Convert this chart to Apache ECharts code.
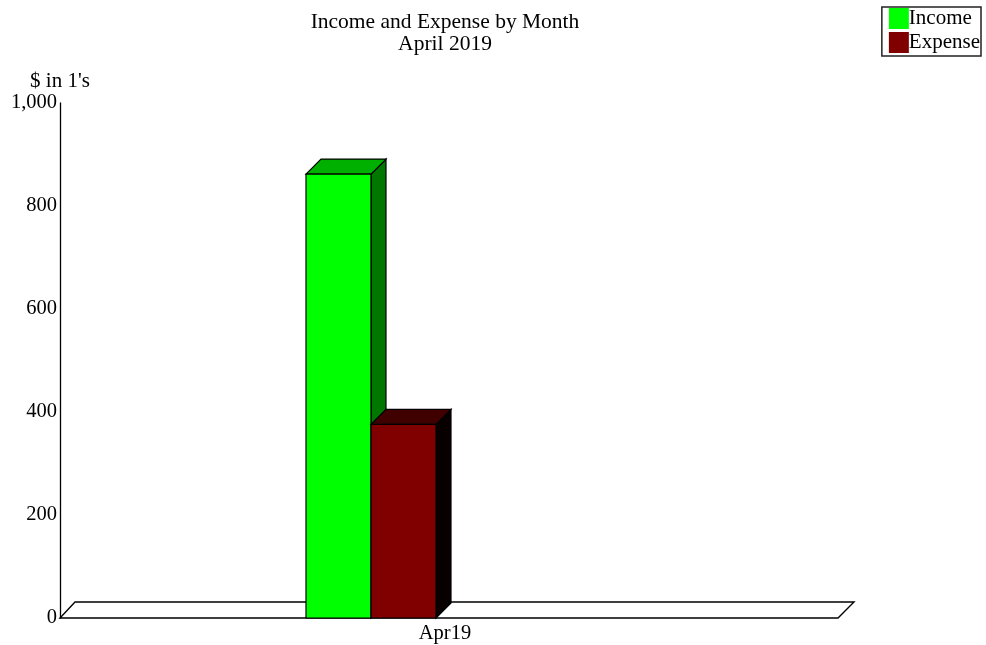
<!DOCTYPE html>
<html>
<head>
<meta charset="utf-8">
<script src="https://cdn.jsdelivr.net/npm/echarts@6/dist/echarts.min.js"></script>
<style>
html,body{margin:0;padding:0;background:#fff;}
#chart{width:986px;height:645px;}
</style>
</head>
<body>
<div id="chart"></div>
<script>
var categories = ['Apr19'];
var incomeValues = [862];
var expenseValues = [376];
var yTicks = [0, 200, 400, 600, 800, 1000];

var FONT = '"Liberation Serif", "Times New Roman", serif';
var DEPTH = 15;

function makeBarRenderer(offsetFrac, widthFrac, front, top, side) {
  return function (params, api) {
    var cat = api.value(0);
    var val = api.value(1);
    var base = api.coord([cat, 0]);
    var tp = api.coord([cat, val]);
    var band = api.size([1, 0])[0];
    var x0 = base[0] + band * offsetFrac;
    var w = band * widthFrac;
    var y0 = base[1];
    var y1 = tp[1];
    var d = DEPTH;
    var stroke = {stroke: '#000', lineWidth: 1.2};
    return {
      type: 'group',
      children: [
        {type: 'polygon', shape: {points: [[x0 + w, y1], [x0 + w + d, y1 - d], [x0 + w + d, y0 - d], [x0 + w, y0]]},
          style: Object.assign({fill: side}, stroke)},
        {type: 'polygon', shape: {points: [[x0, y1], [x0 + d, y1 - d], [x0 + w + d, y1 - d], [x0 + w, y1]]},
          style: Object.assign({fill: top}, stroke)},
        {type: 'rect', shape: {x: x0, y: y1, width: w, height: y0 - y1},
          style: Object.assign({fill: front}, stroke)}
      ]
    };
  };
}

var option = {
  animation: false,
  backgroundColor: '#fff',
  title: {
    text: 'Income and Expense by Month\nApril 2019',
    left: 440,
    top: 6,
    textAlign: 'center',
    textStyle: {fontFamily: FONT, fontSize: 21.5, fontWeight: 'normal', color: '#000', lineHeight: 22}
  },
  legend: {
    orient: 'vertical',
    right: 5,
    top: 7,
    padding: [1, 1, 3, 7],
    itemGap: 3,
    itemWidth: 20,
    itemHeight: 21,
    icon: 'rect',
    backgroundColor: '#fff',
    borderColor: '#222',
    borderWidth: 1.5,
    borderRadius: 0,
    data: ['Income', 'Expense'],
    textStyle: {fontFamily: FONT, fontSize: 21, color: '#000', lineHeight: 21, padding: [0, 0, 0, -5]}
  },
  grid: {left: 60, right: 148, top: 103, bottom: 27, containLabel: false},
  xAxis: {
    type: 'category',
    data: categories,
    boundaryGap: true,
    axisLine: {show: false},
    axisTick: {show: false},
    splitLine: {show: false},
    axisLabel: {fontFamily: FONT, fontSize: 20.5, color: '#000', margin: 5, padding: [0, 8, 0, 0]}
  },
  yAxis: {
    type: 'value',
    min: yTicks[0],
    max: yTicks[yTicks.length - 1],
    interval: yTicks[1] - yTicks[0],
    name: "$ in 1's",
    nameLocation: 'end',
    nameGap: 11,
    nameTextStyle: {fontFamily: FONT, fontSize: 21, color: '#000', align: 'center'},
    axisLine: {show: true, lineStyle: {color: '#000', width: 1.3}},
    axisTick: {show: false},
    splitLine: {show: false},
    axisLabel: {
      fontFamily: FONT, fontSize: 20.5, color: '#000', margin: 3,
      formatter: function (v) { return v.toLocaleString('en-US'); }
    }
  },
  series: [
    {
      type: 'custom',
      name: 'floor',
      z: 1,
      silent: true,
      data: [[0, 0]],
      renderItem: function (params, api) {
        var cs = params.coordSys;
        var yb = cs.y + cs.height;
        return {
          type: 'polygon',
          shape: {points: [[cs.x, yb], [cs.x + cs.width, yb], [cs.x + cs.width + 16, yb - 16], [cs.x + 15, yb - 16]]},
          style: {fill: '#fff', stroke: '#000', lineWidth: 1.4}
        };
      }
    },
    {
      type: 'custom',
      name: 'Income',
      z: 2,
      itemStyle: {color: '#00ff00'},
      data: categories.map(function (c, i) { return [i, incomeValues[i]]; }),
      renderItem: makeBarRenderer((306 - 449) / 778, 65 / 778, '#00ff00', '#00b000', '#007800')
    },
    {
      type: 'custom',
      name: 'Expense',
      z: 3,
      itemStyle: {color: '#800000'},
      data: categories.map(function (c, i) { return [i, expenseValues[i]]; }),
      renderItem: makeBarRenderer((371 - 449) / 778, 65 / 778, '#800000', '#400000', '#080000')
    }
  ]
};

var chart = echarts.init(document.getElementById('chart'), null, {renderer: 'canvas'});
chart.setOption(option);
</script>
</body>
</html>
